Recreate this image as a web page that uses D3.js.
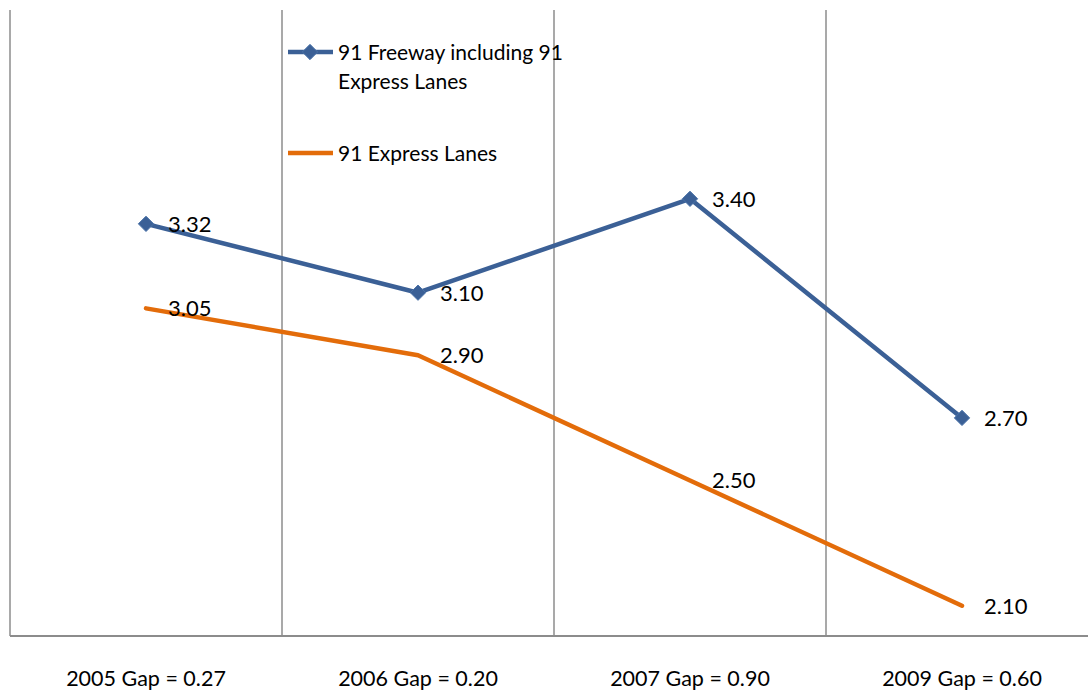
<!DOCTYPE html>
<html>
<head>
<meta charset="utf-8">
<script src="https://cdn.jsdelivr.net/npm/d3@7"></script>
<style>
  body { margin: 0; background: #fff; }
  svg { display: block; font-family: Lato, "Open Sans", sans-serif; }
</style>
</head>
<body>
<svg id="chart" width="1088" height="690"></svg>
<script>
const categories = ['2005 Gap = 0.27', '2006 Gap = 0.20', '2007 Gap = 0.90', '2009 Gap = 0.60'];
const freewayValues = [3.32, 3.10, 3.40, 2.70];
const expressValues = [3.05, 2.90, 2.50, 2.10];
const seriesNames = ['91 Freeway including 91 Express Lanes', '91 Express Lanes'];

const svg = d3.select('#chart');
const plotLeft = 10, plotRight = 1098, plotTop = 10, plotBottom = 636;

const x = d3.scaleBand().domain(categories).range([plotLeft, plotRight]);
const y = d3.scaleLinear().domain([2, 4]).range([plotBottom + 1, plotTop + 1]);

const blue = '#3B6096', orange = '#E36C0A', grid = '#8c8c8c';

// category separators
svg.append('g')
  .selectAll('line')
  .data(categories.slice(1))
  .join('line')
  .attr('x1', d => x(d)).attr('x2', d => x(d))
  .attr('y1', plotTop).attr('y2', plotBottom)
  .attr('stroke', grid).attr('stroke-width', 1.5);

// axes lines
svg.append('line').attr('x1', plotLeft).attr('x2', plotLeft).attr('y1', plotTop).attr('y2', plotBottom)
  .attr('stroke', grid).attr('stroke-width', 1.5);
svg.append('line').attr('x1', plotLeft).attr('x2', plotRight).attr('y1', plotBottom).attr('y2', plotBottom)
  .attr('stroke', grid).attr('stroke-width', 2);

// x labels
svg.append('g')
  .selectAll('text')
  .data(categories)
  .join('text')
  .attr('x', d => x(d) + x.bandwidth() / 2)
  .attr('y', 686)
  .attr('text-anchor', 'middle')
  .attr('font-size', 21.5)
  .attr('fill', '#000')
  .text(d => d);

const cx = d => x(d) + x.bandwidth() / 2;
const line = d3.line().x(d => cx(d.cat)).y(d => y(d.v));

function drawSeries(values, color, marker) {
  const pts = values.map((v, i) => ({ cat: categories[i], v }));
  const g = svg.append('g');
  g.append('path').datum(pts)
    .attr('d', line)
    .attr('fill', 'none')
    .attr('stroke', color)
    .attr('stroke-width', 4.5)
    .attr('stroke-linejoin', 'round')
    .attr('stroke-linecap', 'round');
  if (marker) {
    g.selectAll('path.mk')
      .data(pts)
      .join('path')
      .attr('class', 'mk')
      .attr('d', d3.symbol(d3.symbolDiamond2, 150))
      .attr('transform', d => `translate(${cx(d.cat)},${y(d.v)})`)
      .attr('fill', color)
      .attr('stroke', '#4a72a8')
      .attr('stroke-width', 1);
  }
  g.selectAll('text')
    .data(pts)
    .join('text')
    .attr('x', d => cx(d.cat) + 22)
    .attr('y', d => y(d.v))
    .attr('dy', '0.36em')
    .attr('font-size', 22)
    .attr('fill', '#000')
    .text(d => d.v.toFixed(2));
}

drawSeries(freewayValues, blue, true);
drawSeries(expressValues, orange, false);

// legend
const lg = svg.append('g');
lg.append('line').attr('x1', 288).attr('x2', 333).attr('y1', 52).attr('y2', 52)
  .attr('stroke', blue).attr('stroke-width', 4.5);
lg.append('path').attr('d', d3.symbol(d3.symbolDiamond2, 150))
  .attr('transform', 'translate(310,52)')
  .attr('fill', blue).attr('stroke', '#4a72a8');
lg.append('text').attr('x', 338).attr('y', 60).attr('font-size', 21).text('91 Freeway including 91');
lg.append('text').attr('x', 338).attr('y', 89).attr('font-size', 21).text('Express Lanes');
lg.append('line').attr('x1', 288).attr('x2', 333).attr('y1', 153).attr('y2', 153)
  .attr('stroke', orange).attr('stroke-width', 4.5);
lg.append('text').attr('x', 338).attr('y', 161).attr('font-size', 21).text(seriesNames[1]);
</script>
</body>
</html>
